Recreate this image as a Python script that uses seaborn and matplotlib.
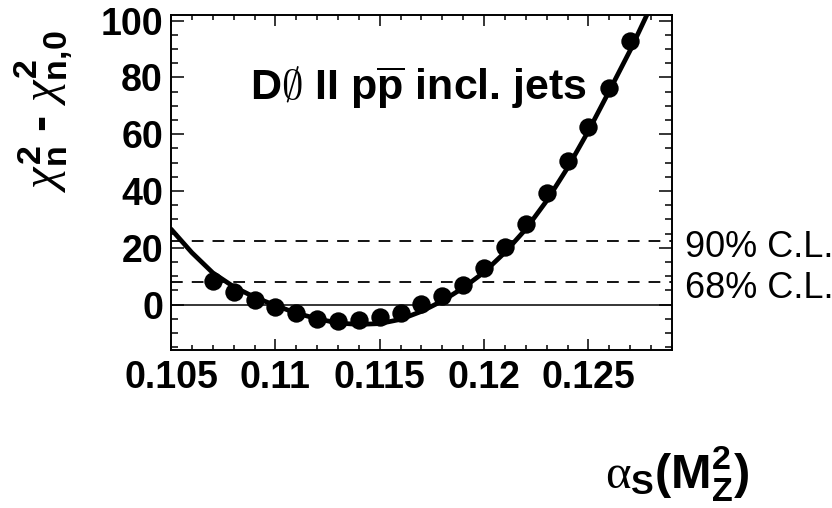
import numpy as np
import pandas as pd
import seaborn as sns
import matplotlib
matplotlib.use("Agg")
import matplotlib.pyplot as plt
from matplotlib.ticker import FixedLocator, MultipleLocator
import matplotlib.transforms as mtransforms

# alpha_s(M_Z^2) scan points and chi^2 differences
alpha_s = [0.107, 0.108, 0.109, 0.110, 0.111, 0.112, 0.113, 0.114, 0.115, 0.116,
           0.117, 0.118, 0.119, 0.120, 0.121, 0.122, 0.123, 0.124, 0.125, 0.126, 0.127]
delta_chi2 = [8.4, 4.4, 1.5, -0.8, -3.0, -5.0, -5.7, -5.6, -4.3, -3.0,
              0.1, 3.0, 7.0, 12.8, 20.4, 28.4, 39.2, 50.4, 62.4, 76.3, 92.7]

# fitted parabola-like curve, sampled along alpha_s
fit_alpha_s = [0.105, 0.106, 0.107, 0.108, 0.109, 0.110, 0.111, 0.112, 0.113, 0.114,
               0.115, 0.116, 0.117, 0.118, 0.119, 0.120, 0.121, 0.122, 0.123, 0.124,
               0.125, 0.126, 0.127, 0.128]
fit_chi2 = [26.6, 18.3, 11.2, 6.3, 2.6, -0.3, -3.0, -5.0, -6.5, -7.0,
            -6.7, -5.2, -2.4, 1.3, 5.9, 11.4, 18.4, 26.6, 36.6, 48.2,
            61.2, 75.3, 89.6, 105.2]

# confidence-level thresholds
cl_labels = ["90% C.L.", "68% C.L."]
cl_values = [22.4, 7.9]

x_ticks = [0.105, 0.11, 0.115, 0.12, 0.125]
x_tick_labels = ["0.105", "0.11", "0.115", "0.12", "0.125"]
y_ticks = [0, 20, 40, 60, 80, 100]
y_tick_labels = ["0", "20", "40", "60", "80", "100"]

points = pd.DataFrame({"alpha_s": alpha_s, "delta_chi2": delta_chi2})
curve = pd.DataFrame({"alpha_s": fit_alpha_s, "delta_chi2": fit_chi2})

sns.set_style("ticks")
plt.rcParams["font.family"] = ["Liberation Sans", "DejaVu Sans"]
plt.rcParams["text.color"] = "black"
plt.rcParams["axes.labelcolor"] = "black"
plt.rcParams["xtick.color"] = "black"
plt.rcParams["ytick.color"] = "black"
plt.rcParams["axes.edgecolor"] = "black"
plt.rcParams["mathtext.fontset"] = "custom"
plt.rcParams["mathtext.rm"] = "Liberation Sans"
plt.rcParams["mathtext.bf"] = "Liberation Sans:bold"
plt.rcParams["mathtext.it"] = "Liberation Serif:italic"
plt.rcParams["mathtext.sf"] = "Liberation Serif"

fig = plt.figure(figsize=(8.32, 5.08), dpi=100)
ax = fig.add_axes([0.20553, 0.31102, 0.60216, 0.65945])

# reference lines
ax.axhline(0, color="black", lw=1.1, zorder=1)
for v in cl_values:
    ax.axhline(v, color="black", lw=1.3, ls=(0, (6.5, 5)), zorder=1)

# fitted curve and scan points
sns.lineplot(data=curve, x="alpha_s", y="delta_chi2", sort=False, estimator=None,
             color="black", lw=3.4, zorder=2, ax=ax)
sns.scatterplot(data=points, x="alpha_s", y="delta_chi2", s=175, color="black",
                linewidth=0, alpha=1, zorder=3, ax=ax)
ax.set_xlim(0.105, 0.129)
ax.set_ylim(-16.0, 102.0)
ax.set_xlabel("")
ax.set_ylabel("")

# ticks
ax.xaxis.set_major_locator(FixedLocator(x_ticks))
ax.set_xticklabels(x_tick_labels)
ax.xaxis.set_minor_locator(MultipleLocator(0.001))
ax.yaxis.set_major_locator(FixedLocator(y_ticks))
ax.set_yticklabels(y_tick_labels)
ax.yaxis.set_minor_locator(MultipleLocator(5))
ax.tick_params(axis="x", which="major", direction="in", top=True, bottom=True,
               length=7.6, width=1.1, pad=7, labelsize=27, color="black")
ax.tick_params(axis="x", which="minor", direction="in", top=True, bottom=True,
               length=3.8, width=1.1, color="black")
ax.tick_params(axis="y", which="major", direction="in", left=True, right=True,
               length=9.7, width=1.1, pad=5.8, labelsize=27, color="black")
ax.tick_params(axis="y", which="minor", direction="in", left=True, right=True,
               length=4.9, width=1.1, color="black")
for lab in ax.get_xticklabels() + ax.get_yticklabels():
    lab.set_fontweight("bold")

for s in ax.spines.values():
    s.set_visible(True)
    s.set_linewidth(1.4)
    s.set_color("black")

# experiment label
blend = mtransforms.blended_transform_factory(ax.transAxes, ax.transData)
ax.text(0.158, 72.1, r"D$\mathsf{\emptyset}$ II p$\overline{\mathbf{p}}$ incl. jets",
        transform=blend, fontsize=31, fontweight="bold", va="baseline", ha="left")

# confidence-level labels at the right of the frame
for lab, v in zip(cl_labels, cl_values):
    ax.annotate(lab, xy=(1.026, v), xycoords=blend, xytext=(0, -11.5),
                textcoords="offset points", fontsize=26, va="baseline", ha="left",
                annotation_clip=False)

# axis titles
fig.text(0.0529, 1 - 30 / 508,
         r"$\mathit{\chi}^{\mathbf{2}}_{\mathbf{n}}$ - $\mathit{\chi}^{\mathbf{2}}_{\mathbf{n{,}0}}$",
         rotation=90, ha="center", va="top", fontsize=35, fontweight="bold")
fig.text(750 / 832, 1 - 488 / 508,
         r"$\mathsf{\alpha}_{\mathbf{S}}\mathbf{(M^{2}_{Z})}$",
         ha="right", va="baseline", fontsize=35, fontweight="bold")

fig.savefig("out.png", dpi=100)
